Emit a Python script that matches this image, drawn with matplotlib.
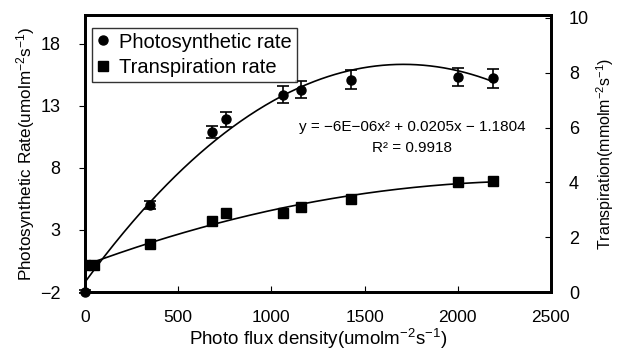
import numpy as np
import matplotlib
matplotlib.use("Agg")
import matplotlib.pyplot as plt
from matplotlib.lines import Line2D

plt.rcParams['font.family'] = ['Liberation Sans', 'DejaVu Sans']
plt.rcParams['mathtext.fontset'] = 'custom'
plt.rcParams['mathtext.rm'] = 'Liberation Sans'
plt.rcParams['mathtext.it'] = 'Liberation Sans:italic'

# Data
ppfd_photo = [0, 50, 350, 680, 755, 1060, 1160, 1425, 2000, 2190]
photo_rate = [-1.95, 0.2, 5.0, 10.9, 11.9, 13.9, 14.3, 15.1, 15.3, 15.2]
photo_err = [0.1, 0.2, 0.3, 0.5, 0.6, 0.65, 0.7, 0.75, 0.75, 0.78]

ppfd_trans = [0, 50, 350, 680, 755, 1060, 1160, 1425, 2000, 2190]
trans_rate = [1.0, 1.0, 1.75, 2.6, 2.9, 2.9, 3.1, 3.4, 4.0, 4.05]
trans_err = [0.05, 0.05, 0.06, 0.08, 0.08, 0.08, 0.08, 0.08, 0.1, 0.1]

# Trendline coefficients shown in the chart
photo_fit = [-6e-06, 0.0205, -1.1804]

x_ticks = [0, 500, 1000, 1500, 2000, 2500]
left_ticks = [-2, 3, 8, 13, 18]
right_ticks = [0, 2, 4, 6, 8, 10]

fig = plt.figure(figsize=(6.26, 3.58), dpi=100)
ax = fig.add_axes([0.136, 0.184, 0.744, 0.774])
ax2 = ax.twinx()

xs = np.linspace(0, max(ppfd_photo), 300)
ax.plot(xs, np.polyval(photo_fit, xs), color='black', lw=1.2, zorder=2)
ax.errorbar(ppfd_photo, photo_rate, yerr=photo_err, fmt='o', color='black',
            ms=6.5, capsize=4, elinewidth=1.2, capthick=1.2, zorder=3,
            clip_on=False)

tfit = np.polyfit(ppfd_trans, trans_rate, 2)
xt = np.linspace(0, max(ppfd_trans), 300)
ax2.plot(xt, np.polyval(tfit, xt), color='black', lw=1.2, zorder=2)
ax2.errorbar(ppfd_trans, trans_rate, yerr=trans_err, fmt='s', color='black',
             ms=7, capsize=3, elinewidth=1, zorder=3)

ax.set_xlim(0, 2500)
ax.set_ylim(-2, 20.3)
ax2.set_ylim(0, 10.1)
ax.set_xticks(x_ticks)
ax.set_yticks(left_ticks)
ax2.set_yticks(right_ticks)

for a in (ax, ax2):
    for s in a.spines.values():
        s.set_linewidth(2)
ax.tick_params(axis='x', direction='in', length=4, labelsize=12.5, pad=13)
ax.tick_params(axis='y', direction='out', length=4, labelsize=13, pad=14)
ax2.tick_params(axis='y', direction='in', length=4, labelsize=13, pad=13)

ax.set_xlabel('Photo flux density(umolm$^{-2}$s$^{-1}$)', fontsize=13.5, labelpad=1)
ax.set_ylabel('Photosynthetic Rate(umolm$^{-2}$s$^{-1}$)', fontsize=12.3, labelpad=2)
ax2.set_ylabel('Transpiration(mmolm$^{-2}$s$^{-1}$)', fontsize=11.5, labelpad=4)

ax.text(1756, 11.3, 'y = \u22126E\u221206x\u00b2 + 0.0205x \u2212 1.1804', fontsize=11,
        ha='center', va='center')
ax.text(1756, 9.6, 'R\u00b2 = 0.9918', fontsize=11, ha='center', va='center')

handles = [Line2D([], [], marker='o', color='black', ls='none', ms=6.5),
           Line2D([], [], marker='s', color='black', ls='none', ms=6.5)]
labels = ['Photosynthetic rate', 'Transpiration rate']
leg = ax2.legend(handles, labels, loc='upper left', bbox_to_anchor=(0.015, 0.955),
                 fontsize=14.5, frameon=True, fancybox=False, edgecolor='black',
                 handlelength=0.6, handletextpad=0.5, borderpad=0.25,
                 labelspacing=0.3, borderaxespad=0)
leg.get_frame().set_linewidth(1)

fig.savefig('out.png', dpi=100)
